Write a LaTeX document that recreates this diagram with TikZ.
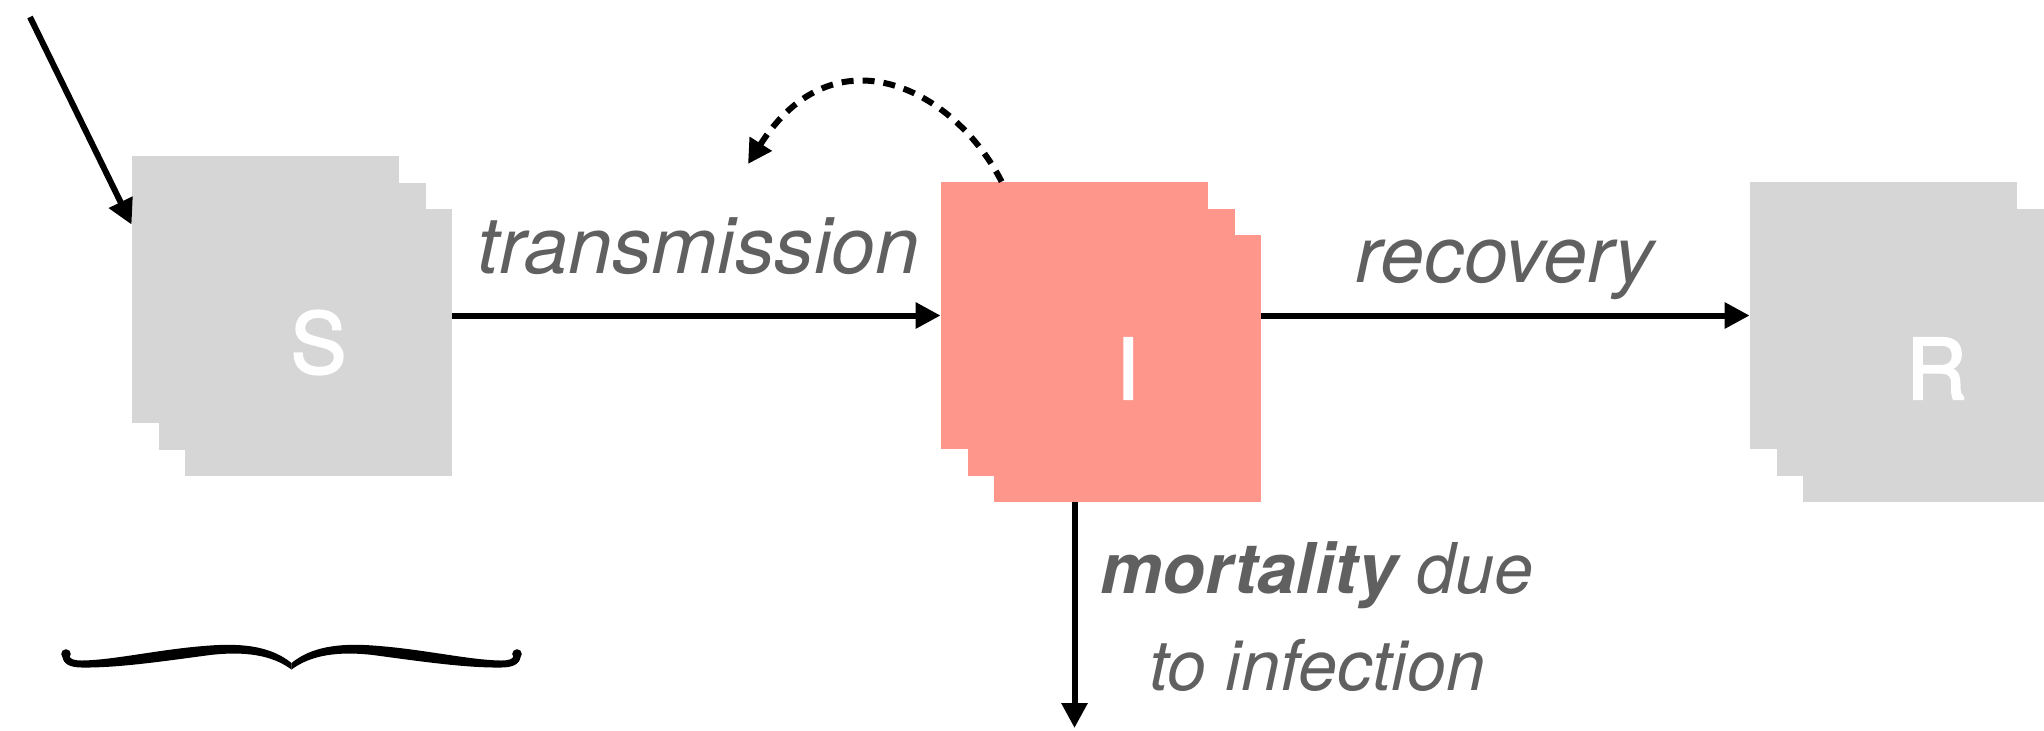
\documentclass[tikz,border=0pt]{standalone}
\usepackage{fontspec}
\setmainfont{TeX Gyre Heros}
\newfontfamily\letterfont[FakeBold=2.3]{TeX Gyre Heros}
\usetikzlibrary{arrows.meta,calc}
\definecolor{boxgray}{RGB}{214,214,214}
\definecolor{salmon}{RGB}{254,150,140}
\definecolor{labelgray}{RGB}{96,96,96}
\tikzset{
  sq/.style={rectangle, minimum size=133.5pt, inner sep=0pt, fill=#1, text=white, font=\fontsize{42}{50}\selectfont\letterfont},
  flow/.style={line width=3pt, -{Triangle[length=12.5pt,width=12.5pt]}},
  lbl/.style={text=labelgray, inner sep=0pt, anchor=base west, font=\fontsize{39.5}{45}\selectfont\itshape},
  mort/.style={text=labelgray, inner sep=0pt, anchor=base, font=\fontsize{35}{42}\selectfont\itshape},
  feedback/.style={line width=3pt, dash pattern=on 6pt off 4.5pt, -{Triangle[length=12pt,width=12.5pt]}},
  bracepart/.style={fill=black},
}
\begin{document}
\begin{tikzpicture}[x=0.5pt,y=-0.5pt]
\useasboundingbox (0,0) rectangle (2044,730);
\clip (0,0) rectangle (2044,730);
% S stack
\node[sq=boxgray] (S1) at (265.5,289.5) {};
\node[sq=boxgray] (S2) at (292,316) {};
\node[sq=boxgray] (S3) at (318.5,342.5) {S};
% I stack
\node[sq=salmon] (I1) at (1074.5,315.5) {};
\node[sq=salmon] (I2) at (1101,342) {};
\node[sq=salmon] (I3) at (1127.5,368.5) {I};
% R stack
\node[sq=boxgray] (R1) at (1883.5,315.5) {};
\node[sq=boxgray] (R2) at (1910,342) {};
\node[sq=boxgray] (R3) at (1936.5,368.5) {R};
% coordinates
\coordinate (birth) at (30,17);
\coordinate (birthend) at ($(S1.north west)+(0,69)$);
\coordinate (fbstart) at ($(I1.north west)+(61,0)$);
\coordinate (fbend) at (748,164);
\coordinate (death) at (1074.5,728);
% connectors
\draw[flow] (birth) -- (birthend);
\draw[flow] (I1.west -| S3.east) -- (I1.west);
\draw[flow] (I1.center -| I3.east) -- (R1.west);
\draw[flow] (I1.center |- I3.south) -- (death);
\draw[feedback] (fbstart) .. controls (955,90) and (835,27) .. (fbend);
% labels
\node[lbl] (ltrans) at (477,273) {transmission};
\node[lbl] (lrec) at (1355,282) {recovery};
\node[mort] (lmort1) at (1317,593) {\textbf{mortality} due};
\node[mort] (lmort2) at (1317,690) {to infection};
% brace
\begin{scope}
\fill[bracepart] (291.5,663) .. controls (272,647) and (245,643) .. (210,645.5) .. controls (160,649) and (115,660) .. (82,660.5) .. controls (74,660.5) and (70,659) .. (69.5,656) -- (62.5,657) .. controls (63.5,665) and (72,667.5) .. (82,667.5) .. controls (118,668) and (165,661) .. (210,655) .. controls (245,651) and (272,655) .. (291.5,669.5) -- cycle;
\fill[bracepart] (66,654) circle[radius=2.4pt];
\end{scope}
\begin{scope}[shift={(583,0)}, xscale=-1]
\fill[bracepart] (291.5,663) .. controls (272,647) and (245,643) .. (210,645.5) .. controls (160,649) and (115,660) .. (82,660.5) .. controls (74,660.5) and (70,659) .. (69.5,656) -- (62.5,657) .. controls (63.5,665) and (72,667.5) .. (82,667.5) .. controls (118,668) and (165,661) .. (210,655) .. controls (245,651) and (272,655) .. (291.5,669.5) -- cycle;
\fill[bracepart] (66,654) circle[radius=2.4pt];
\end{scope}
\end{tikzpicture}
\end{document}
